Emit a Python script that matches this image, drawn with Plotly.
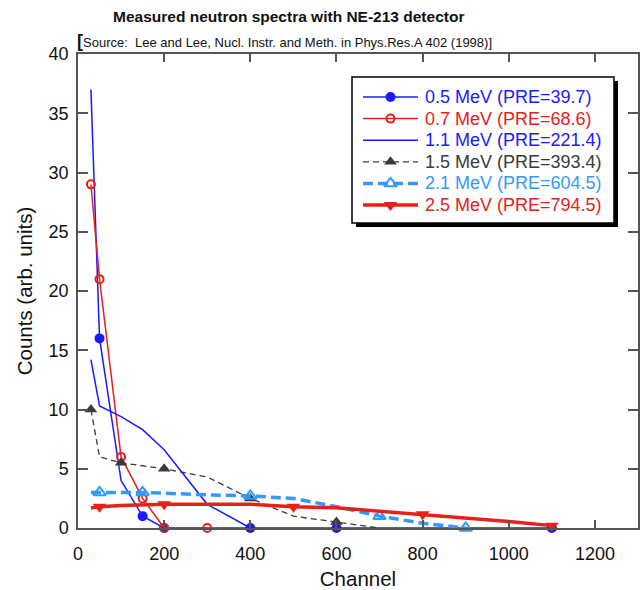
import plotly.graph_objects as go

# ---------------- data ----------------
labels = ["0.5 MeV (PRE=39.7)", "0.7 MeV (PRE=68.6)", "1.1 MeV (PRE=221.4)",
          "1.5 MeV (PRE=393.4)", "2.1 MeV (PRE=604.5)", "2.5 MeV (PRE=794.5)"]

x05 = [30, 50, 100, 150, 200, 400, 600, 1100]
y05 = [37, 16, 4, 1, 0, 0, 0, 0]
mx05 = [50, 150, 200, 400, 600, 1100]
my05 = [16, 1, 0, 0, 0, 0]

x07 = [30, 50, 100, 150, 200, 300]
y07 = [29, 21, 6, 2.5, 0, 0]
mx07 = [30, 50, 100, 150, 200, 300]
my07 = [29, 21, 6, 2.5, 0, 0]

x11 = [30, 50, 100, 150, 200, 300, 400]
y11 = [14.2, 10.3, 9.4, 8.3, 6.6, 2.0, 0]
mx11 = []
my11 = []

x15 = [30, 50, 100, 200, 300, 400, 500, 600, 700]
y15 = [10, 6, 5.5, 5, 4.3, 2.5, 1.0, 0.5, 0]
mx15 = [30, 100, 200, 400, 600]
my15 = [10, 5.5, 5, 2.5, 0.5]

x21 = [30, 50, 150, 300, 400, 500, 600, 700, 800, 900]
y21 = [3, 3, 3, 2.8, 2.7, 2.5, 1.8, 1.0, 0.4, 0]
mx21 = [50, 150, 400, 700, 900]
my21 = [3, 3, 2.7, 1.0, 0]

x25 = [30, 50, 100, 200, 400, 500, 600, 800, 1000, 1100]
y25 = [1.7, 1.8, 1.9, 2.0, 2.0, 1.8, 1.7, 1.15, 0.55, 0.2]
mx25 = [50, 200, 500, 800, 1100]
my25 = [1.8, 2.0, 1.8, 1.15, 0.2]

x_ticks = [0, 200, 400, 600, 800, 1000, 1200]
y_ticks = [0, 5, 10, 15, 20, 25, 30, 35, 40]

# ---------------- styles ----------------
BLUE = "#1a1aff"
RED = "#e8201a"
GRAY = "#3a3a3a"
LBLUE = "#3399ff"

styles = [
    dict(color=BLUE, width=1.5, dash="solid", symbol="circle", msize=10),
    dict(color=RED, width=1.5, dash="solid", symbol="circle-open", msize=8),
    dict(color=BLUE, width=1.5, dash="solid", symbol=None, msize=0),
    dict(color=GRAY, width=1.3, dash="6px,4px", symbol="triangle-up", msize=11),
    dict(color=LBLUE, width=3.5, dash="10px,5px", symbol="triangle-up-open", msize=11),
    dict(color=RED, width=3.5, dash="solid", symbol="triangle-down", msize=12),
]

series = [(x05, y05, mx05, my05), (x07, y07, mx07, my07), (x11, y11, mx11, my11),
          (x15, y15, mx15, my15), (x21, y21, mx21, my21), (x25, y25, mx25, my25)]

# ---------------- geometry (pixels) ----------------
W, H = 642, 590
L, R, T, B = 78, 4, 54, 62
pw = W - L - R
ph = H - T - B


def px2paper_x(px):
    return (px - L) / pw


def px2paper_y(py):
    return (H - B - py) / ph


def marker_of(st):
    return dict(symbol=st["symbol"], size=st["msize"], color=st["color"],
                line=dict(color=st["color"], width=2 if "open" in st["symbol"] else 0))


fig = go.Figure()
for (xs, ys, mxs, mys), st in zip(series, styles):
    fig.add_trace(go.Scatter(
        x=xs, y=ys, mode="lines", line=dict(color=st["color"], width=st["width"], dash=st["dash"]),
        showlegend=False, hoverinfo="skip"))
    if mxs:
        fig.add_trace(go.Scatter(
            x=mxs, y=mys, mode="markers", marker=marker_of(st), cliponaxis=False,
            showlegend=False))

# ---------------- manual legend (overlay axes in pixel units) ----------------
LEG_L, LEG_T, LEG_R, LEG_B = 352, 77, 614, 223
SHADOW = 4
row_y0, row_dy = 97, 21.6
samp_x0, samp_x1 = 363, 418
text_x = 423

fig.add_shape(type="rect", xref="paper", yref="paper",
              x0=px2paper_x(LEG_L + SHADOW), x1=px2paper_x(LEG_R + SHADOW),
              y0=px2paper_y(LEG_B + SHADOW), y1=px2paper_y(LEG_T + SHADOW),
              fillcolor="black", line=dict(width=0), layer="below")
fig.add_shape(type="rect", xref="paper", yref="paper",
              x0=px2paper_x(LEG_L), x1=px2paper_x(LEG_R),
              y0=px2paper_y(LEG_B), y1=px2paper_y(LEG_T),
              fillcolor="white", line=dict(width=1.5, color="black"), layer="below")

for i, (st, lab) in enumerate(zip(styles, labels)):
    yy = row_y0 + i * row_dy
    fig.add_trace(go.Scatter(
        x=[samp_x0, samp_x1], y=[yy, yy], xaxis="x2", yaxis="y2", mode="lines",
        line=dict(color=st["color"], width=st["width"], dash=st["dash"]),
        showlegend=False, hoverinfo="skip", cliponaxis=False))
    if st["symbol"]:
        fig.add_trace(go.Scatter(
            x=[(samp_x0 + samp_x1) / 2], y=[yy], xaxis="x2", yaxis="y2", mode="markers",
            marker=marker_of(st), showlegend=False, hoverinfo="skip", cliponaxis=False))
    fig.add_annotation(text=lab, xref="x2", yref="y2", x=text_x, y=yy,
                       xanchor="left", yanchor="middle", showarrow=False,
                       font=dict(size=18, color=st["color"]))

axis_common = dict(
    showgrid=False, zeroline=False, showline=True, linecolor="#555555", linewidth=1.5,
    ticks="inside", tickwidth=1.5, tickcolor="#555555", mirror="ticks",
    tickfont=dict(size=18, color="#111111"), automargin=False,
)

fig.update_layout(
    width=W, height=H,
    margin=dict(l=L, r=R, t=T, b=B),
    paper_bgcolor="white", plot_bgcolor="white",
    font=dict(family="Arial, Liberation Sans, sans-serif", color="#111111"),
    showlegend=False,
    xaxis=dict(range=[0, 1300], tickvals=x_ticks, ticktext=[str(v) for v in x_ticks],
               ticklen=8, ticklabelstandoff=9,
               title=dict(text="Channel", font=dict(size=20.5), standoff=8), **axis_common),
    yaxis=dict(range=[0, 40], tickvals=y_ticks, ticktext=[str(v) for v in y_ticks],
               ticklen=10, ticklabelstandoff=4,
               title=dict(text="Counts (arb. units)", font=dict(size=20.5), standoff=10), **axis_common),
    xaxis2=dict(overlaying="x", range=[L, W - R], visible=False, fixedrange=True),
    yaxis2=dict(overlaying="y", range=[H - B, T], visible=False, fixedrange=True),
)

fig.add_annotation(text="<b>Measured neutron spectra with NE-213 detector</b>",
                   xref="paper", yref="paper", x=px2paper_x(288), y=px2paper_y(17),
                   xanchor="center", yanchor="middle", showarrow=False,
                   font=dict(size=15.5, color="#111111"))
fig.add_annotation(text="<b><span style='font-size:18px'>[</span></b>Source:  Lee and Lee, Nucl. Instr. and Meth. in Phys.Res.A 402 (1998)]",
                   xref="paper", yref="paper", x=px2paper_x(284), y=px2paper_y(41),
                   xanchor="center", yanchor="middle", showarrow=False,
                   font=dict(size=13, color="#111111"))

fig.write_html("out.html",
               config={"displayModeBar": False},
               post_script="document.body.style.margin='0';document.body.style.padding='0';")
